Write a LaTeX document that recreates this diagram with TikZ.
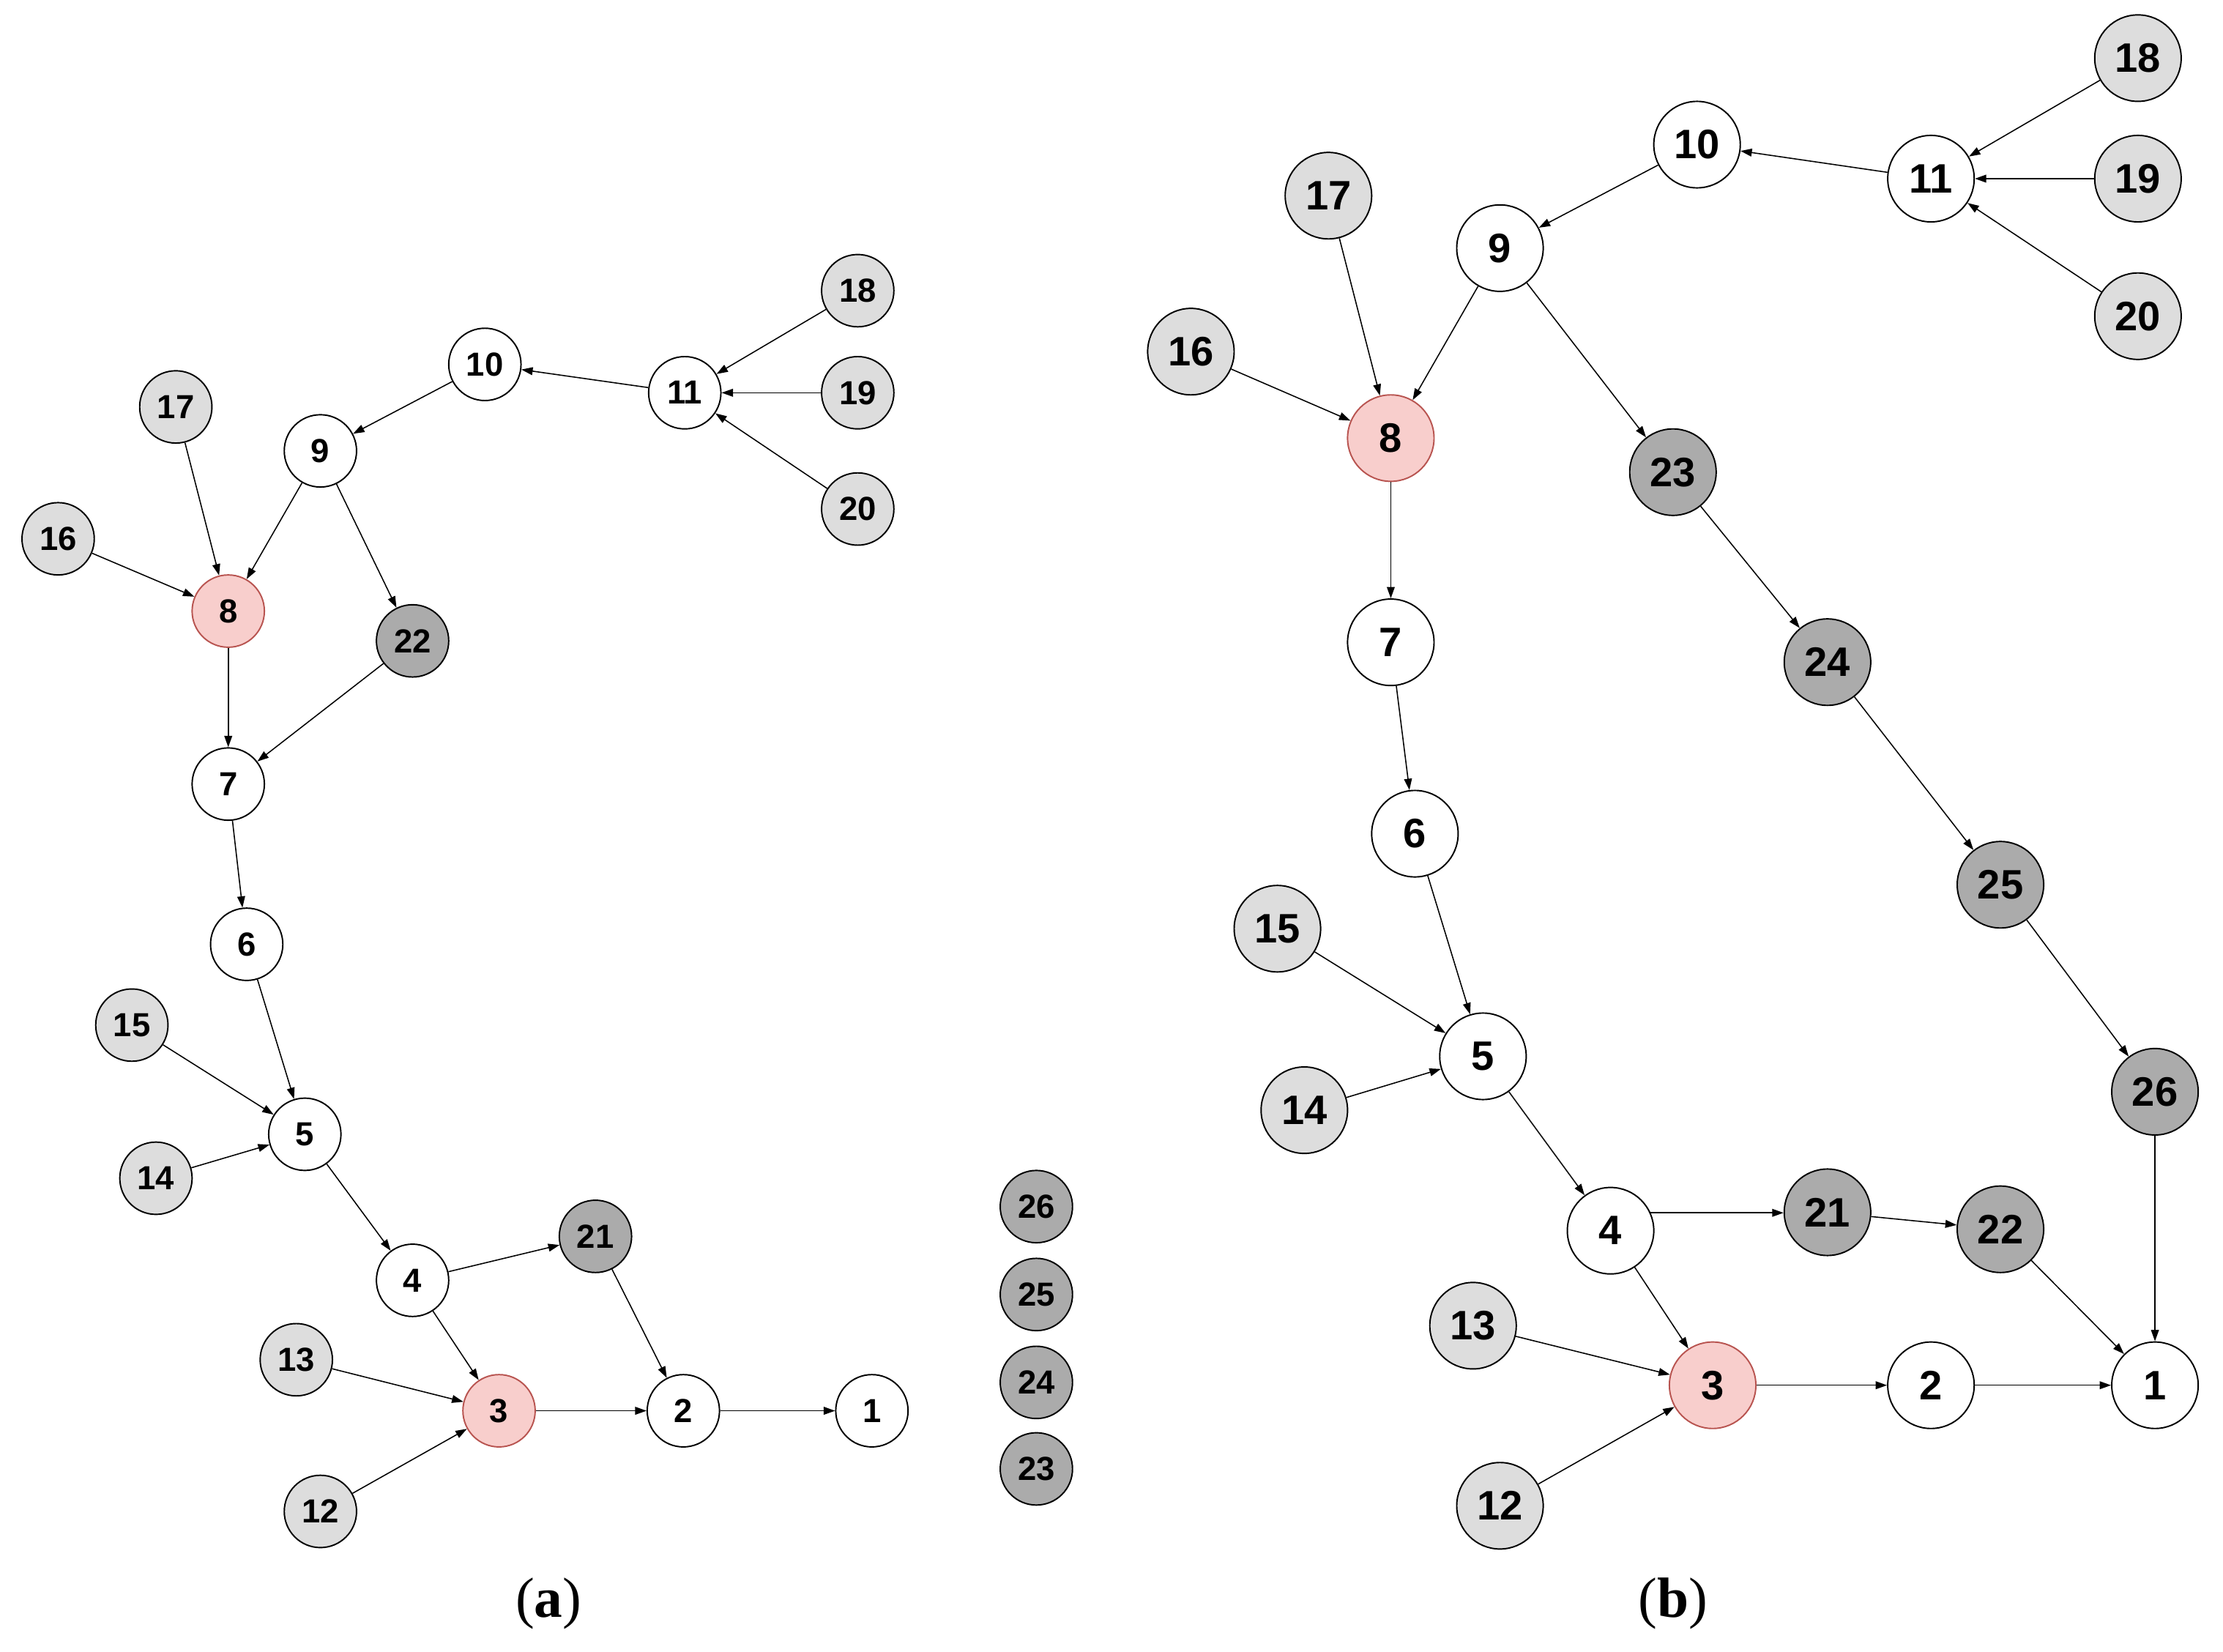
\documentclass[tikz,border=0pt]{standalone}
\usepackage{fontspec}
\setmainfont{Liberation Serif}
\newfontfamily\nodefont{Liberation Sans}
\usetikzlibrary{arrows.meta}
\definecolor{lgray}{HTML}{DDDDDD}
\definecolor{dgray}{HTML}{ABABAB}
\definecolor{pinkfill}{HTML}{F8CECC}
\definecolor{pinkdraw}{HTML}{B85450}
\begin{document}
\begin{tikzpicture}[x=1pt,y=-1pt,
  nd/.style={circle,draw=black,line width=1pt,inner sep=0pt,fill=white},
  na/.style={nd,minimum size=51pt,font=\nodefont\bfseries\fontsize{23.5}{23.5}\selectfont},
  nb/.style={nd,minimum size=61pt,font=\nodefont\bfseries\fontsize{29}{29}\selectfont},
  lg/.style={fill=lgray},
  dg/.style={fill=dgray},
  pk/.style={fill=pinkfill,draw=pinkdraw},
  ed/.style={line width=0.8pt,-{Triangle[length=8pt,width=5.5pt]}},
  captxt/.style={font=\fontsize{40}{40}\selectfont}
]
\useasboundingbox (0,0) rectangle (1568,1165);
% ---------- (a) ----------
\node[na] (a1) at (615,995) {1};
\node[na] (a2) at (482,995) {2};
\node[na,pk] (a3) at (352,995) {3};
\node[na] (a4) at (291,903) {4};
\node[na] (a5) at (215,800) {5};
\node[na] (a6) at (174,666) {6};
\node[na] (a7) at (161,553) {7};
\node[na,pk] (a8) at (161,431) {8};
\node[na] (a9) at (226,318) {9};
\node[na] (a10) at (342,257) {10};
\node[na] (a11) at (483,277) {11};
\node[na,lg] (a12) at (226,1066) {12};
\node[na,lg] (a13) at (209,959) {13};
\node[na,lg] (a14) at (110,831) {14};
\node[na,lg] (a15) at (93,723) {15};
\node[na,lg] (a16) at (41,380) {16};
\node[na,lg] (a17) at (124,287) {17};
\node[na,lg] (a18) at (605,205) {18};
\node[na,lg] (a19) at (605,277) {19};
\node[na,lg] (a20) at (605,359) {20};
\node[na,dg] (a21) at (420,872) {21};
\node[na,dg] (a22) at (291,452) {22};
\node[na,dg] (a23) at (731,1036) {23};
\node[na,dg] (a24) at (731,975) {24};
\node[na,dg] (a25) at (731,913) {25};
\node[na,dg] (a26) at (731,851) {26};
\foreach \s/\t in {18/11,19/11,20/11,11/10,10/9,9/8,9/22,17/8,16/8,8/7,22/7,7/6,6/5,15/5,14/5,5/4,4/21,4/3,21/2,13/3,12/3,3/2,2/1}
  \draw[ed] (a\s) -- (a\t);
\node[captxt] (capa) at (387,1131) {(\textbf{a})};
% ---------- (b) ----------
\node[nb] (b1) at (1520,977) {1};
\node[nb] (b2) at (1362,977) {2};
\node[nb,pk] (b3) at (1208,977) {3};
\node[nb] (b4) at (1136,868) {4};
\node[nb] (b5) at (1046,745) {5};
\node[nb] (b6) at (998,588) {6};
\node[nb] (b7) at (981,453) {7};
\node[nb,pk] (b8) at (981,309) {8};
\node[nb] (b9) at (1058,175) {9};
\node[nb] (b10) at (1197,102) {10};
\node[nb] (b11) at (1362,126) {11};
\node[nb,lg] (b12) at (1058,1062) {12};
\node[nb,lg] (b13) at (1039,935) {13};
\node[nb,lg] (b14) at (920,783) {14};
\node[nb,lg] (b15) at (901,655) {15};
\node[nb,lg] (b16) at (840,248) {16};
\node[nb,lg] (b17) at (937,138) {17};
\node[nb,lg] (b18) at (1508,41) {18};
\node[nb,lg] (b19) at (1508,126) {19};
\node[nb,lg] (b20) at (1508,223) {20};
\node[nb,dg] (b21) at (1289,855) {21};
\node[nb,dg] (b22) at (1411,867) {22};
\node[nb,dg] (b23) at (1180,333) {23};
\node[nb,dg] (b24) at (1289,467) {24};
\node[nb,dg] (b25) at (1411,624) {25};
\node[nb,dg] (b26) at (1520,770) {26};
\foreach \s/\t in {18/11,19/11,20/11,11/10,10/9,9/8,9/23,17/8,16/8,8/7,7/6,6/5,15/5,14/5,5/4,21/22,22/1,4/3,13/3,12/3,3/2,2/1,23/24,24/25,25/26,26/1}
  \draw[ed] (b\s) -- (b\t);
\draw[ed] (b4.24) -- (b4.24 -| b21.west);
\node[captxt] (capb) at (1180,1131) {(\textbf{b})};
\end{tikzpicture}
\end{document}
